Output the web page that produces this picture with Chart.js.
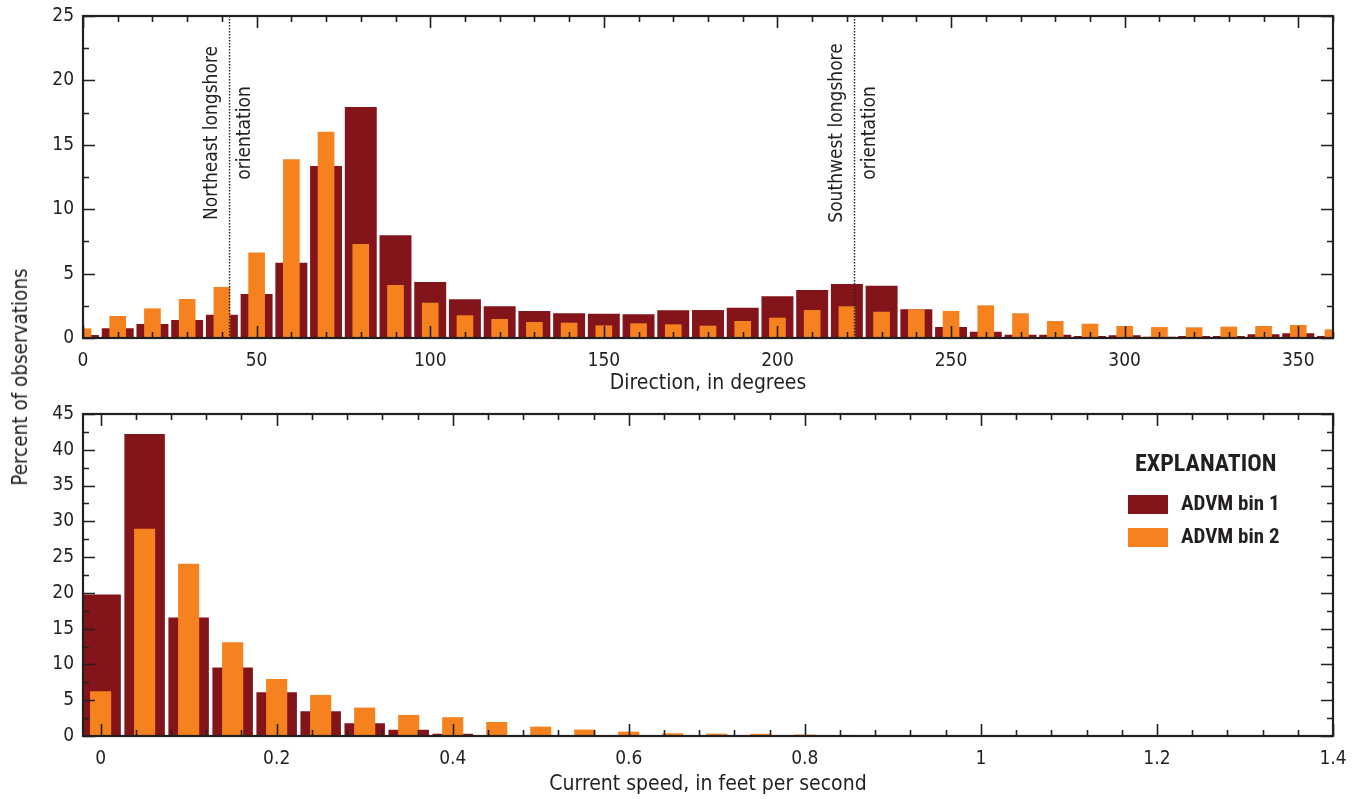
<!DOCTYPE html>
<html><head><meta charset="utf-8">
<script src="https://cdn.jsdelivr.net/npm/chart.js@4.4.1/dist/chart.umd.min.js"></script>
<style>
html,body{margin:0;padding:0;background:#fff;}
#wrap{position:relative;width:1354px;height:799px;overflow:hidden;}
#c1{position:absolute;left:0;top:0;}
#c2{position:absolute;left:0;top:400px;}
#ytitle{position:absolute;left:20px;top:377px;transform:translate(-50%,-50%) rotate(-90deg);white-space:nowrap;font-size:20.5px;color:#231f20;font-family:"DejaVu Sans Condensed",sans-serif;}
</style></head>
<body><div id="wrap">
<canvas id="c1" width="1354" height="400"></canvas>
<canvas id="c2" width="1354" height="399"></canvas>
<div id="ytitle">Percent of observations</div>
</div>
<script>
// ---- data ----
const directionBins = [0,10,20,30,40,50,60,70,80,90,100,110,120,130,140,150,160,170,180,190,200,210,220,230,240,250,260,270,280,290,300,310,320,330,340,350,360];
const directionBin1 = [0.23,0.75,1.09,1.4,1.81,3.42,5.85,13.35,17.93,7.97,4.35,3.0,2.46,2.1,1.92,1.89,1.84,2.15,2.17,2.35,3.24,3.73,4.19,4.06,2.23,0.85,0.49,0.26,0.26,0.16,0.21,0.1,0.16,0.16,0.29,0.36,0.16];
const directionBin2 = [0.75,1.71,2.3,3.03,3.96,6.63,13.87,16.02,7.3,4.11,2.74,1.76,1.48,1.24,1.19,0.98,1.14,1.06,0.96,1.32,1.58,2.17,2.46,2.04,2.23,2.1,2.54,1.92,1.32,1.11,0.93,0.85,0.83,0.88,0.93,1.01,0.67];
const speedBins = [0,0.05,0.1,0.15,0.2,0.25,0.3,0.35,0.4,0.45,0.5,0.55,0.6,0.65,0.7,0.75,0.8,0.85];
const speedBin1 = [19.78,42.2,16.56,9.56,6.11,3.45,1.77,0.89,0.33,0.1,0.05,0.03,0,0,0,0,0,0];
const speedBin2 = [6.25,28.96,24.06,13.1,7.97,5.74,3.97,2.94,2.63,1.96,1.31,0.9,0.61,0.38,0.33,0.3,0.2,0.15];
const directionTicks = [0,50,100,150,200,250,300,350];
const directionYTicks = [0,5,10,15,20,25];
const speedTicks = [0,0.2,0.4,0.6,0.8,1,1.2,1.4];
const speedYTicks = [0,5,10,15,20,25,30,35,40,45];
const seriesNames = ['ADVM bin 1','ADVM bin 2'];
const refLines = [
  {value: 42.2, lines: ['Northeast longshore','orientation']},
  {value: 222.2, lines: ['Southwest longshore','orientation']}
];

// ---- styles ----
const FONT = '"DejaVu Sans Condensed",sans-serif';
const BOLDFONT = '"Roboto Condensed","DejaVu Sans Condensed",sans-serif';
const INK = '#231f20';
const DARK = '#82141a';
const ORANGE = '#f5821f';

const framePlugin = {
  id: 'frame',
  afterDatasetsDraw(chart, args, o) {
    const {ctx, chartArea: a, scales: {x, y}} = chart;
    ctx.save();
    ctx.strokeStyle = INK;
    ctx.lineWidth = 1.6;
    const eps = 1e-6;
    ctx.beginPath();
    for (let n = Math.ceil(x.min / o.xMinor - eps); n * o.xMinor <= x.max + eps; n++) {
      const v = n * o.xMinor;
      const major = Math.abs(v / o.xMajor - Math.round(v / o.xMajor)) < eps;
      const len = major ? 12 : 6;
      const px = Math.round(x.getPixelForValue(v)) + 0.5;
      ctx.moveTo(px, a.bottom); ctx.lineTo(px, a.bottom - len);
      ctx.moveTo(px, a.top); ctx.lineTo(px, a.top + len);
    }
    for (let n = Math.ceil(y.min / o.yMinor - eps); n * o.yMinor <= y.max + eps; n++) {
      const v = n * o.yMinor;
      const major = Math.abs(v / o.yMajor - Math.round(v / o.yMajor)) < eps;
      const len = major ? 12 : 6;
      const py = Math.round(y.getPixelForValue(v)) + 0.5;
      ctx.moveTo(a.left, py); ctx.lineTo(a.left + len, py);
      ctx.moveTo(a.right, py); ctx.lineTo(a.right - len, py);
    }
    ctx.stroke();
    ctx.lineWidth = 2.2;
    ctx.strokeRect(a.left, a.top, a.right - a.left, a.bottom - a.top);
    if (o.refs) {
      for (const r of o.refs) {
        const px = x.getPixelForValue(r.value);
        ctx.beginPath();
        ctx.lineWidth = 1.4;
        ctx.setLineDash([1.4, 1.6]);
        ctx.moveTo(px, a.top); ctx.lineTo(px, a.bottom);
        ctx.stroke();
        ctx.setLineDash([]);
        ctx.save();
        ctx.translate(px, o.refCenterY);
        ctx.rotate(-Math.PI / 2);
        ctx.fillStyle = INK;
        ctx.font = o.refFont;
        ctx.textAlign = 'center';
        ctx.textBaseline = 'middle';
        ctx.fillText(r.lines[0], 0, -17);
        ctx.fillText(r.lines[1], 0, 16);
        ctx.restore();
      }
    }
    ctx.restore();
  },
  afterDraw(chart, args, o) {
    if (!o.legend) return;
    const {ctx} = chart;
    const L = o.legend;
    ctx.save();
    ctx.fillStyle = INK;
    ctx.textBaseline = 'middle';
    ctx.textAlign = 'left';
    ctx.font = L.titleFont;
    ctx.fillText(L.title, L.titleX, L.titleY);
    ctx.font = L.itemFont;
    chart.data.datasets.slice().sort((p, q) => p.legendIndex - q.legendIndex).forEach((ds, i) => {
      const cy = L.firstY + i * L.gap;
      ctx.fillStyle = ds.backgroundColor;
      ctx.fillRect(L.boxX, cy - L.boxH / 2, L.boxW, L.boxH);
      ctx.fillStyle = INK;
      ctx.fillText(ds.label, L.textX, cy);
    });
    ctx.restore();
  }
};

function makeChart(canvas, cfg) {
  const xs = cfg.bins;
  return new Chart(canvas, {
    type: 'bar',
    data: {
      datasets: [
        {label: seriesNames[1], legendIndex: 1, data: xs.map((v, i) => ({x: v, y: cfg.s2[i]})),
          backgroundColor: ORANGE, barPercentage: 0.48, categoryPercentage: 1, grouped: false, clip: 0, order: 1},
        {label: seriesNames[0], legendIndex: 0, data: xs.map((v, i) => ({x: v, y: cfg.s1[i]})),
          backgroundColor: DARK, barPercentage: 0.92, categoryPercentage: 1, grouped: false, clip: 0, order: 2}
      ]
    },
    options: {
      responsive: false,
      animation: false,
      events: [],
      layout: {padding: {top: cfg.padTop, right: 21, left: 0, bottom: 0}},
      plugins: {legend: {display: false}, tooltip: {enabled: false}, frame: cfg.frame},
      scales: {
        x: {
          type: 'linear', min: cfg.xMin, max: cfg.xMax, offset: false,
          afterBuildTicks: s => { s.ticks = cfg.xTicks.map(v => ({value: v})); },
          afterFit: s => { s.height = cfg.xHeight; s.paddingLeft = 0; s.paddingRight = 0; },
          grid: {display: false, drawTicks: false},
          border: {display: false},
          ticks: {autoSkip: false, maxRotation: 0, padding: 12, color: INK, font: {family: FONT, size: 19},
            callback: v => String(+(+v).toFixed(2))},
          title: {display: true, text: cfg.xTitle, color: INK, font: {family: FONT, size: 21}, padding: {top: 0, bottom: cfg.titlePad}}
        },
        y: {
          type: 'linear', min: cfg.yMin, max: cfg.yMax,
          afterBuildTicks: s => { s.ticks = cfg.yTicks.map(v => ({value: v})); },
          afterFit: s => { s.width = 83; s.paddingTop = 0; s.paddingBottom = 0; },
          grid: {display: false, drawTicks: false},
          border: {display: false},
          ticks: {padding: 9, color: INK, font: {family: FONT, size: 19}}
        }
      }
    },
    plugins: [framePlugin]
  });
}

makeChart(document.getElementById('c1'), {
  bins: directionBins, s1: directionBin1, s2: directionBin2,
  xMin: 0, xMax: 360, yMin: 0, yMax: 25, xTicks: directionTicks, yTicks: directionYTicks,
  xTitle: 'Direction, in degrees', padTop: 16, xHeight: 62, titlePad: 4,
  frame: {xMinor: 10, xMajor: 50, yMinor: 2.5, yMajor: 5, refs: refLines, refCenterY: 133,
    refFont: '19px ' + FONT}
});

makeChart(document.getElementById('c2'), {
  bins: speedBins, s1: speedBin1, s2: speedBin2,
  xMin: -0.02, xMax: 1.4, yMin: 0, yMax: 45, xTicks: speedTicks, yTicks: speedYTicks,
  xTitle: 'Current speed, in feet per second', padTop: 14, xHeight: 63, titlePad: 2,
  frame: {xMinor: 0.04, xMajor: 0.2, yMinor: 2.5, yMajor: 5,
    legend: {title: 'EXPLANATION', titleFont: 'bold 24px ' + BOLDFONT, titleX: 1135, titleY: 65,
      itemFont: 'bold 21px ' + BOLDFONT, boxX: 1128, boxW: 40, boxH: 19, firstY: 104.5, gap: 33, textX: 1181}}
});
</script>
</body></html>
